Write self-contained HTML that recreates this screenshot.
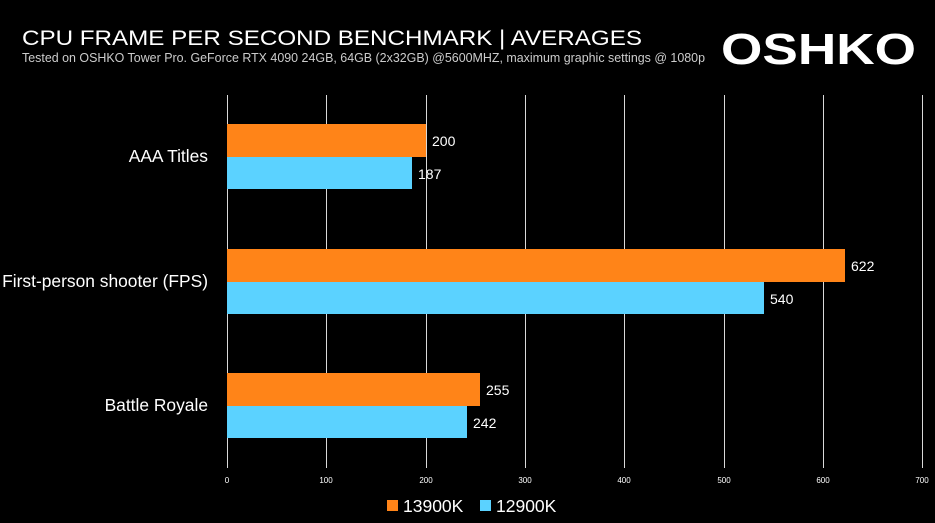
<!DOCTYPE html>
<html><head><meta charset="utf-8"><style>
html,body{margin:0;padding:0;background:#000;width:935px;height:523px;overflow:hidden}
</style></head><body>
<svg width="935" height="523" xmlns="http://www.w3.org/2000/svg" style="display:block">
<rect width="935" height="523" fill="#000"/>
<text x="22" y="45" fill="#fff" font-family="Liberation Sans, sans-serif" font-size="21" textLength="620" lengthAdjust="spacingAndGlyphs">CPU FRAME PER SECOND BENCHMARK | AVERAGES</text>
<text x="22" y="62" fill="#ccc" font-family="Liberation Sans, sans-serif" font-size="13" textLength="683" lengthAdjust="spacingAndGlyphs">Tested on OSHKO Tower Pro. GeForce RTX 4090 24GB, 64GB (2x32GB) @5600MHZ, maximum graphic settings @ 1080p</text>
<text x="721" y="64" fill="#fff" font-family="Liberation Sans, sans-serif" font-weight="bold" font-size="44" textLength="195" lengthAdjust="spacingAndGlyphs">OSHKO</text>
<g stroke="#d9d9d9" stroke-width="1">
<line x1="227.5" y1="95" x2="227.5" y2="468"/>
<line x1="326.5" y1="95" x2="326.5" y2="468"/>
<line x1="426.5" y1="95" x2="426.5" y2="468"/>
<line x1="525.5" y1="95" x2="525.5" y2="468"/>
<line x1="624.5" y1="95" x2="624.5" y2="468"/>
<line x1="724.5" y1="95" x2="724.5" y2="468"/>
<line x1="823.5" y1="95" x2="823.5" y2="468"/>
<line x1="922.5" y1="95" x2="922.5" y2="468"/>
</g>
<g fill="#FF8418">
<rect x="227" y="124" width="199" height="33"/>
<rect x="227" y="249" width="618" height="33"/>
<rect x="227" y="373" width="253" height="33"/>
</g>
<g fill="#5BD2FF">
<rect x="227" y="157" width="185" height="32"/>
<rect x="227" y="282" width="537" height="32"/>
<rect x="227" y="406" width="240" height="32"/>
</g>
<g fill="#fff" font-family="Liberation Sans, sans-serif" font-size="14">
<text x="432" y="146">200</text>
<text x="418" y="179">187</text>
<text x="851" y="271">622</text>
<text x="770" y="304">540</text>
<text x="486" y="395">255</text>
<text x="473" y="428">242</text>
</g>
<g fill="#fff" font-family="Liberation Sans, sans-serif" font-size="17.4" text-anchor="end">
<text x="208" y="162">AAA Titles</text>
<text x="208" y="287">First-person shooter (FPS)</text>
<text x="208" y="411">Battle Royale</text>
</g>
<g fill="#fff" font-family="Liberation Sans, sans-serif" font-size="8" text-anchor="middle">
<text x="227" y="483">0</text>
<text x="326" y="483">100</text>
<text x="426" y="483">200</text>
<text x="525" y="483">300</text>
<text x="624" y="483">400</text>
<text x="724" y="483">500</text>
<text x="823" y="483">600</text>
<text x="922" y="483">700</text>
</g>
<rect x="387" y="500" width="11" height="11" fill="#FF8418"/>
<text x="403" y="512" fill="#fff" font-family="Liberation Sans, sans-serif" font-size="17.5">13900K</text>
<rect x="480" y="500" width="11" height="11" fill="#5BD2FF"/>
<text x="496" y="512" fill="#fff" font-family="Liberation Sans, sans-serif" font-size="17.5">12900K</text>
</svg>
</body></html>
